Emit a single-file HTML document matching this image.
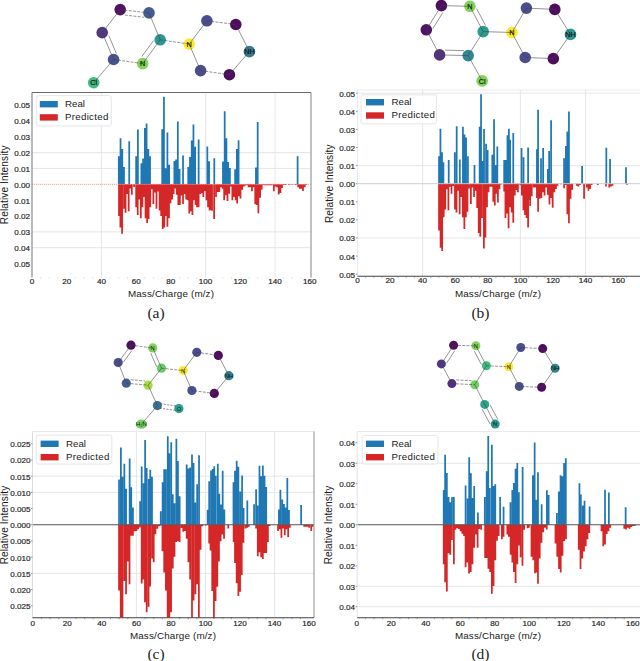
<!DOCTYPE html>
<html><head><meta charset="utf-8"><style>
html,body{margin:0;padding:0;background:#fff;width:640px;height:661px;overflow:hidden}
svg{display:block}
</style></head><body><svg width="640" height="661" viewBox="0 0 640 661">
<g stroke="#e3e3e3" stroke-width="0.9"><line x1="101.44" y1="92.5" x2="101.44" y2="277.5" /><line x1="205.60" y1="92.5" x2="205.60" y2="277.5" /><line x1="275.04" y1="92.5" x2="275.04" y2="277.5" /><line x1="32" y1="168.45" x2="311" y2="168.45" /><line x1="32" y1="152.60" x2="311" y2="152.60" /><line x1="32" y1="231.85" x2="311" y2="231.85" /><line x1="32" y1="247.70" x2="311" y2="247.70" /></g>
<path fill="#1f77b4" d="M117.92 156.20h1.75v28.10h-1.75zM119.66 138.20h1.75v46.10h-1.75zM121.40 149.10h1.75v35.20h-1.75zM123.13 167.10h1.75v17.20h-1.75zM128.34 141.30h1.75v43.00h-1.75zM135.28 156.20h1.75v28.10h-1.75zM137.02 129.60h1.75v54.70h-1.75zM140.49 163.20h1.75v21.10h-1.75zM142.23 158.50h1.75v25.80h-1.75zM143.97 128.05h1.75v56.25h-1.75zM145.70 123.40h1.75v60.90h-1.75zM147.44 149.10h1.75v35.20h-1.75zM149.17 156.20h1.75v28.10h-1.75zM161.32 129.30h1.75v55.00h-1.75zM163.06 96.80h1.75v87.50h-1.75zM164.80 168.20h1.75v16.10h-1.75zM166.53 132.40h1.75v51.90h-1.75zM168.27 164.80h1.75v19.50h-1.75zM173.48 160.90h1.75v23.40h-1.75zM175.21 159.60h1.75v24.70h-1.75zM176.95 121.50h1.75v62.80h-1.75zM178.69 169.00h1.75v15.30h-1.75zM182.16 155.40h1.75v28.90h-1.75zM187.37 167.10h1.75v17.20h-1.75zM189.10 157.00h1.75v27.30h-1.75zM190.84 140.55h1.75v43.75h-1.75zM192.57 124.50h1.75v59.80h-1.75zM194.31 146.80h1.75v37.50h-1.75zM197.78 139.50h1.75v44.80h-1.75zM206.46 146.50h1.75v37.80h-1.75zM208.20 161.30h1.75v23.00h-1.75zM213.41 158.30h1.75v26.00h-1.75zM222.09 161.60h1.75v22.70h-1.75zM223.82 111.20h1.75v73.10h-1.75zM225.56 138.30h1.75v46.00h-1.75zM227.29 161.90h1.75v22.40h-1.75zM229.03 168.10h1.75v16.20h-1.75zM234.24 169.20h1.75v15.10h-1.75zM235.97 148.90h1.75v35.40h-1.75zM237.71 140.30h1.75v44.00h-1.75zM255.07 167.60h1.75v16.70h-1.75zM256.81 122.10h1.75v62.20h-1.75zM296.73 156.20h1.75v28.10h-1.75z"/>
<path fill="#d62728" d="M118.10 184.30h1.75v31.60h-1.75zM119.49 184.30h1.75v43.30h-1.75zM121.22 184.30h1.75v49.50h-1.75zM123.13 184.30h1.75v24.50h-1.75zM124.70 184.30h1.75v28.40h-1.75zM126.26 184.30h1.75v9.70h-1.75zM127.82 184.30h1.75v26.90h-1.75zM129.38 184.30h1.75v4.20h-1.75zM130.94 184.30h1.75v10.50h-1.75zM133.20 184.30h1.75v2.70h-1.75zM135.28 184.30h1.75v23.00h-1.75zM136.85 184.30h1.75v30.80h-1.75zM138.41 184.30h1.75v15.20h-1.75zM139.97 184.30h1.75v33.90h-1.75zM141.53 184.30h1.75v23.00h-1.75zM143.10 184.30h1.75v12.80h-1.75zM144.66 184.30h1.75v33.90h-1.75zM146.22 184.30h1.75v38.60h-1.75zM147.78 184.30h1.75v34.70h-1.75zM149.35 184.30h1.75v23.00h-1.75zM150.91 184.30h1.75v5.00h-1.75zM152.47 184.30h1.75v19.80h-1.75zM154.03 184.30h1.75v8.10h-1.75zM155.60 184.30h1.75v24.50h-1.75zM157.16 184.30h1.75v7.30h-1.75zM158.72 184.30h1.75v26.10h-1.75zM160.28 184.30h1.75v31.60h-1.75zM161.85 184.30h1.75v44.80h-1.75zM163.41 184.30h1.75v43.30h-1.75zM164.97 184.30h1.75v31.60h-1.75zM166.53 184.30h1.75v42.50h-1.75zM168.10 184.30h1.75v33.90h-1.75zM169.66 184.30h1.75v19.00h-1.75zM171.22 184.30h1.75v15.20h-1.75zM172.78 184.30h1.75v9.70h-1.75zM174.34 184.30h1.75v4.20h-1.75zM175.91 184.30h1.75v10.50h-1.75zM177.47 184.30h1.75v20.60h-1.75zM179.03 184.30h1.75v20.60h-1.75zM180.59 184.30h1.75v11.25h-1.75zM182.16 184.30h1.75v19.80h-1.75zM183.72 184.30h1.75v9.70h-1.75zM185.28 184.30h1.75v15.20h-1.75zM186.84 184.30h1.75v15.90h-1.75zM188.41 184.30h1.75v29.20h-1.75zM189.97 184.30h1.75v26.90h-1.75zM191.53 184.30h1.75v30.80h-1.75zM193.09 184.30h1.75v15.90h-1.75zM194.66 184.30h1.75v20.60h-1.75zM196.22 184.30h1.75v23.00h-1.75zM197.78 184.30h1.75v23.00h-1.75zM199.34 184.30h1.75v9.70h-1.75zM200.91 184.30h1.75v8.90h-1.75zM202.47 184.30h1.75v12.80h-1.75zM204.03 184.30h1.75v6.60h-1.75zM205.59 184.30h1.75v15.90h-1.75zM207.16 184.30h1.75v23.00h-1.75zM208.72 184.30h1.75v26.10h-1.75zM209.59 184.30h1.75v25.70h-1.75zM211.15 184.30h1.75v26.50h-1.75zM213.23 184.30h1.75v34.60h-1.75zM215.14 184.30h1.75v12.70h-1.75zM216.88 184.30h1.75v7.80h-1.75zM218.44 184.30h1.75v7.80h-1.75zM220.18 184.30h1.75v2.90h-1.75zM221.74 184.30h1.75v4.50h-1.75zM223.30 184.30h1.75v15.90h-1.75zM225.04 184.30h1.75v11.00h-1.75zM226.60 184.30h1.75v16.70h-1.75zM228.33 184.30h1.75v9.40h-1.75zM229.90 184.30h1.75v2.10h-1.75zM231.46 184.30h1.75v15.90h-1.75zM233.20 184.30h1.75v12.70h-1.75zM234.76 184.30h1.75v15.90h-1.75zM236.32 184.30h1.75v19.20h-1.75zM238.06 184.30h1.75v11.90h-1.75zM239.62 184.30h1.75v14.30h-1.75zM241.35 184.30h1.75v5.40h-1.75zM242.92 184.30h1.75v2.10h-1.75zM244.48 184.30h1.75v1.30h-1.75zM246.22 184.30h1.75v1.00h-1.75zM247.78 184.30h1.75v2.90h-1.75zM249.34 184.30h1.75v2.90h-1.75zM251.08 184.30h1.75v7.00h-1.75zM252.64 184.30h1.75v2.90h-1.75zM254.37 184.30h1.75v20.00h-1.75zM255.94 184.30h1.75v20.80h-1.75zM257.50 184.30h1.75v28.90h-1.75zM259.24 184.30h1.75v13.50h-1.75zM260.80 184.30h1.75v5.40h-1.75zM262.53 184.30h1.75v0.80h-1.75zM264.10 184.30h1.75v1.00h-1.75zM265.83 184.30h1.75v1.00h-1.75zM267.39 184.30h1.75v1.00h-1.75zM268.96 184.30h1.75v1.00h-1.75zM270.69 184.30h1.75v1.00h-1.75zM272.95 184.30h1.75v7.00h-1.75zM274.69 184.30h1.75v2.10h-1.75zM276.25 184.30h1.75v2.90h-1.75zM277.81 184.30h1.75v10.20h-1.75zM279.55 184.30h1.75v8.60h-1.75zM281.11 184.30h1.75v3.70h-1.75zM282.67 184.30h1.75v0.80h-1.75zM284.58 184.30h1.75v0.80h-1.75zM288.05 184.30h1.75v0.80h-1.75zM291.52 184.30h1.75v0.80h-1.75zM295.00 184.30h1.75v0.80h-1.75zM297.25 184.30h1.75v2.90h-1.75zM298.99 184.30h1.75v4.50h-1.75zM300.55 184.30h1.75v4.50h-1.75zM302.11 184.30h1.75v6.70h-1.75zM303.85 184.30h1.75v2.90h-1.75zM305.41 184.30h1.75v0.80h-1.75z"/>
<line x1="32" y1="184.3" x2="311" y2="184.3" stroke="#e88080" stroke-width="0.8" stroke-dasharray="1.2 0.8"/>
<line x1="32" y1="92.5" x2="32" y2="277.5" stroke="#8f8f8f" stroke-width="1.25"/>
<line x1="311" y1="92.5" x2="311" y2="277.5" stroke="#a0a0a0" stroke-width="1.3"/>
<line x1="32" y1="92.5" x2="311" y2="92.5" stroke="#6a6a6a" stroke-width="1.0"/>
<g stroke="#d0d0d0" stroke-width="0.7"><line x1="40.68" y1="277.3" x2="40.68" y2="278.7"/><line x1="49.36" y1="277.3" x2="49.36" y2="278.7"/><line x1="58.04" y1="277.3" x2="58.04" y2="278.7"/><line x1="75.40" y1="277.3" x2="75.40" y2="278.7"/><line x1="84.08" y1="277.3" x2="84.08" y2="278.7"/><line x1="92.76" y1="277.3" x2="92.76" y2="278.7"/><line x1="110.12" y1="277.3" x2="110.12" y2="278.7"/><line x1="118.80" y1="277.3" x2="118.80" y2="278.7"/><line x1="127.48" y1="277.3" x2="127.48" y2="278.7"/><line x1="144.84" y1="277.3" x2="144.84" y2="278.7"/><line x1="153.52" y1="277.3" x2="153.52" y2="278.7"/><line x1="162.20" y1="277.3" x2="162.20" y2="278.7"/><line x1="179.56" y1="277.3" x2="179.56" y2="278.7"/><line x1="188.24" y1="277.3" x2="188.24" y2="278.7"/><line x1="196.92" y1="277.3" x2="196.92" y2="278.7"/><line x1="214.28" y1="277.3" x2="214.28" y2="278.7"/><line x1="222.96" y1="277.3" x2="222.96" y2="278.7"/><line x1="231.64" y1="277.3" x2="231.64" y2="278.7"/><line x1="249.00" y1="277.3" x2="249.00" y2="278.7"/><line x1="257.68" y1="277.3" x2="257.68" y2="278.7"/><line x1="266.36" y1="277.3" x2="266.36" y2="278.7"/><line x1="283.72" y1="277.3" x2="283.72" y2="278.7"/><line x1="292.40" y1="277.3" x2="292.40" y2="278.7"/><line x1="301.08" y1="277.3" x2="301.08" y2="278.7"/></g>
<g font-family="'Liberation Sans', sans-serif" font-size="8.1" fill="#1e1e1e" stroke="#1e1e1e" stroke-width="0.18"><text x="30" y="108.45" text-anchor="end">0.05</text><text x="30" y="124.30" text-anchor="end">0.04</text><text x="30" y="140.15" text-anchor="end">0.03</text><text x="30" y="156.00" text-anchor="end">0.02</text><text x="30" y="171.85" text-anchor="end">0.01</text><text x="30" y="187.70" text-anchor="end">0.00</text><text x="30" y="203.55" text-anchor="end">0.01</text><text x="30" y="219.40" text-anchor="end">0.02</text><text x="30" y="235.25" text-anchor="end">0.03</text><text x="30" y="251.10" text-anchor="end">0.04</text><text x="30" y="266.95" text-anchor="end">0.05</text><text x="32.00" y="284.40" text-anchor="middle">0</text><text x="66.72" y="284.40" text-anchor="middle">20</text><text x="101.44" y="284.40" text-anchor="middle">40</text><text x="136.16" y="284.40" text-anchor="middle">60</text><text x="170.88" y="284.40" text-anchor="middle">80</text><text x="205.60" y="284.40" text-anchor="middle">100</text><text x="240.32" y="284.40" text-anchor="middle">120</text><text x="275.04" y="284.40" text-anchor="middle">140</text><text x="309.76" y="284.40" text-anchor="middle">160</text></g>
<text x="171" y="296.90" text-anchor="middle" font-family="'Liberation Sans', sans-serif" font-size="9.85" letter-spacing="0.15" fill="#1a1a1a">Mass/Charge (m/z)</text>
<text transform="translate(4.5,184.8) rotate(-90)" x="0" y="3.64" text-anchor="middle" font-family="'Liberation Sans', sans-serif" font-size="10.1" letter-spacing="0.1" fill="#1a1a1a">Relative Intensity</text>
<rect x="36.3" y="95.6" width="75" height="30.3" rx="2" fill="#ffffff" fill-opacity="0.8" stroke="#e0e0e0" stroke-width="0.8"/>
<rect x="39.8" y="101" width="18" height="6.4" fill="#1f77b4"/>
<rect x="39.8" y="114.2" width="18" height="6.4" fill="#d62728"/>
<text x="65" y="107.00" font-family="'Liberation Sans', sans-serif" font-size="9.7" fill="#1a1a1a">Real</text>
<text x="65" y="120.20" font-family="'Liberation Sans', sans-serif" font-size="9.7" letter-spacing="0.3" fill="#1a1a1a">Predicted</text>
<text x="156" y="317.8" text-anchor="middle" font-family="'Liberation Serif', serif" font-size="15.5" fill="#222">(a)</text>
<ellipse cx="120.2" cy="9.6" rx="5.8" ry="5.8" fill="#46085c" fill-opacity="0.95"/>
<ellipse cx="149" cy="12.9" rx="5.8" ry="5.8" fill="#3b528b" fill-opacity="0.95"/>
<ellipse cx="102.2" cy="32.6" rx="5.8" ry="5.8" fill="#472d7b" fill-opacity="0.95"/>
<ellipse cx="160.2" cy="39.8" rx="5.8" ry="5.8" fill="#21918c" fill-opacity="0.95"/>
<ellipse cx="113.6" cy="59.5" rx="5.8" ry="5.8" fill="#3e4a89" fill-opacity="0.95"/>
<ellipse cx="142.7" cy="63.6" rx="5.8" ry="5.8" fill="#7ad151" fill-opacity="0.95"/>
<ellipse cx="93.7" cy="82.7" rx="5.8" ry="5.8" fill="#35b779" fill-opacity="0.95"/>
<ellipse cx="189.2" cy="44.1" rx="5.8" ry="5.8" fill="#fde725" fill-opacity="0.95"/>
<ellipse cx="206.9" cy="20.8" rx="5.8" ry="5.8" fill="#414487" fill-opacity="0.95"/>
<ellipse cx="235.8" cy="24.5" rx="5.8" ry="5.8" fill="#440154" fill-opacity="0.95"/>
<ellipse cx="249.4" cy="51.6" rx="5.8" ry="5.8" fill="#2c728e" fill-opacity="0.95"/>
<ellipse cx="229.4" cy="74.7" rx="5.8" ry="5.8" fill="#440154" fill-opacity="0.95"/>
<ellipse cx="200.6" cy="70.6" rx="5.8" ry="5.8" fill="#414487" fill-opacity="0.95"/>
<g stroke="#404040" stroke-width="0.7" stroke-opacity="0.8"><line x1="120.2" y1="9.6" x2="149" y2="12.9" stroke-dasharray="3 1.3"/><line x1="124.83" y1="15.06" x2="144.12" y2="17.27" stroke-dasharray="3 1.3"/><line x1="149" y1="12.9" x2="160.2" y2="39.8"/><line x1="120.2" y1="9.6" x2="102.2" y2="32.6"/><line x1="102.2" y1="32.6" x2="113.6" y2="59.5"/><line x1="108.76" y1="35.53" x2="116.40" y2="53.55"/><line x1="113.6" y1="59.5" x2="142.7" y2="63.6" stroke-dasharray="3 1.3"/><line x1="142.7" y1="63.6" x2="160.2" y2="39.8"/><line x1="141.90" y1="56.41" x2="153.63" y2="40.47"/><line x1="113.6" y1="59.5" x2="93.7" y2="82.7"/><line x1="160.2" y1="39.8" x2="189.2" y2="44.1" stroke-dasharray="3 1.3"/><line x1="189.2" y1="44.1" x2="206.9" y2="20.8"/><line x1="206.9" y1="20.8" x2="235.8" y2="24.5" stroke-dasharray="3 1.3"/><line x1="235.8" y1="24.5" x2="249.4" y2="51.6"/><line x1="249.4" y1="51.6" x2="229.4" y2="74.7"/><line x1="229.4" y1="74.7" x2="200.6" y2="70.6" stroke-dasharray="3 1.3"/><line x1="200.6" y1="70.6" x2="189.2" y2="44.1"/></g>
<text x="142.7" y="66.23" text-anchor="middle" font-family="'Liberation Sans', sans-serif" font-size="7.3" fill="#111" stroke="#111" stroke-width="0.15">N</text>
<text x="93.7" y="85.33" text-anchor="middle" font-family="'Liberation Sans', sans-serif" font-size="7.3" fill="#111" stroke="#111" stroke-width="0.15">Cl</text>
<text x="189.2" y="46.73" text-anchor="middle" font-family="'Liberation Sans', sans-serif" font-size="7.3" fill="#111" stroke="#111" stroke-width="0.15">N</text>
<text x="249.4" y="54.23" text-anchor="middle" font-family="'Liberation Sans', sans-serif" font-size="7.3" fill="#111" stroke="#111" stroke-width="0.15">NH</text>
<g stroke="#e3e3e3" stroke-width="0.9"><line x1="422.60" y1="90" x2="422.60" y2="276.3" /><line x1="520.40" y1="90" x2="520.40" y2="276.3" /><line x1="585.60" y1="90" x2="585.60" y2="276.3" /><line x1="357.5" y1="165.60" x2="640" y2="165.60" /><line x1="357.5" y1="238.00" x2="640" y2="238.00" /><line x1="357.5" y1="93.20" x2="640" y2="93.20" /></g>
<path fill="#1f77b4" d="M438.16 156.36h1.75v27.34h-1.75zM439.56 128.70h1.75v55.00h-1.75zM441.12 152.14h1.75v31.56h-1.75zM442.53 162.14h1.75v21.56h-1.75zM447.84 159.95h1.75v23.75h-1.75zM453.94 152.14h1.75v31.56h-1.75zM455.81 126.20h1.75v57.50h-1.75zM458.94 159.48h1.75v24.22h-1.75zM462.06 126.67h1.75v57.03h-1.75zM463.62 134.48h1.75v49.22h-1.75zM465.19 137.61h1.75v46.09h-1.75zM467.06 156.36h1.75v27.34h-1.75zM473.62 164.95h1.75v18.75h-1.75zM478.78 126.67h1.75v57.03h-1.75zM480.19 94.32h1.75v89.38h-1.75zM481.59 161.04h1.75v22.66h-1.75zM483.16 129.01h1.75v54.69h-1.75zM485.19 143.86h1.75v39.84h-1.75zM486.75 150.11h1.75v33.59h-1.75zM491.44 154.79h1.75v28.91h-1.75zM493.16 119.32h1.75v64.38h-1.75zM494.88 164.95h1.75v18.75h-1.75zM496.44 146.51h1.75v37.19h-1.75zM503.31 159.95h1.75v23.75h-1.75zM504.88 159.95h1.75v23.75h-1.75zM506.59 135.26h1.75v48.44h-1.75zM508.00 128.70h1.75v55.00h-1.75zM509.25 139.64h1.75v44.06h-1.75zM512.38 132.92h1.75v50.78h-1.75zM520.66 148.07h1.75v35.62h-1.75zM522.69 157.14h1.75v26.56h-1.75zM527.22 147.45h1.75v36.25h-1.75zM536.06 149.25h1.75v34.45h-1.75zM537.20 109.76h1.75v73.94h-1.75zM540.12 158.19h1.75v25.51h-1.75zM542.24 148.11h1.75v35.59h-1.75zM546.95 169.08h1.75v14.62h-1.75zM548.25 150.88h1.75v32.82h-1.75zM550.20 120.33h1.75v63.37h-1.75zM563.20 158.19h1.75v25.51h-1.75zM564.99 146.00h1.75v37.70h-1.75zM566.45 131.38h1.75v52.32h-1.75zM568.07 111.55h1.75v72.15h-1.75zM581.24 165.99h1.75v17.71h-1.75zM605.45 147.63h1.75v36.07h-1.75zM609.19 159.00h1.75v24.70h-1.75zM625.11 167.13h1.75v16.57h-1.75z"/>
<path fill="#d62728" d="M438.16 183.70h1.75v46.88h-1.75zM439.72 183.70h1.75v64.06h-1.75zM441.28 183.70h1.75v67.19h-1.75zM442.84 183.70h1.75v33.59h-1.75zM444.41 183.70h1.75v25.78h-1.75zM445.97 183.70h1.75v5.47h-1.75zM447.53 183.70h1.75v26.56h-1.75zM449.09 183.70h1.75v3.12h-1.75zM450.66 183.70h1.75v10.16h-1.75zM452.22 183.70h1.75v2.34h-1.75zM454.09 183.70h1.75v25.78h-1.75zM455.66 183.70h1.75v28.91h-1.75zM457.22 183.70h1.75v7.03h-1.75zM458.78 183.70h1.75v30.47h-1.75zM460.34 183.70h1.75v13.28h-1.75zM461.91 183.70h1.75v33.59h-1.75zM463.47 183.70h1.75v45.31h-1.75zM465.03 183.70h1.75v33.59h-1.75zM466.59 183.70h1.75v28.12h-1.75zM468.16 183.70h1.75v4.69h-1.75zM470.03 183.70h1.75v20.31h-1.75zM471.59 183.70h1.75v3.91h-1.75zM473.16 183.70h1.75v13.28h-1.75zM474.72 183.70h1.75v7.03h-1.75zM476.28 183.70h1.75v24.22h-1.75zM477.84 183.70h1.75v49.22h-1.75zM479.41 183.70h1.75v53.12h-1.75zM481.12 183.70h1.75v34.38h-1.75zM483.00 183.70h1.75v64.84h-1.75zM484.56 183.70h1.75v53.91h-1.75zM486.12 183.70h1.75v23.44h-1.75zM487.69 183.70h1.75v8.59h-1.75zM489.25 183.70h1.75v3.12h-1.75zM490.81 183.70h1.75v3.12h-1.75zM492.38 183.70h1.75v17.97h-1.75zM493.94 183.70h1.75v21.88h-1.75zM495.50 183.70h1.75v10.16h-1.75zM497.06 183.70h1.75v18.75h-1.75zM498.62 183.70h1.75v5.47h-1.75zM500.19 183.70h1.75v0.78h-1.75zM503.31 183.70h1.75v7.81h-1.75zM504.56 183.70h1.75v34.38h-1.75zM506.12 183.70h1.75v29.69h-1.75zM507.69 183.70h1.75v44.53h-1.75zM509.25 183.70h1.75v23.44h-1.75zM510.81 183.70h1.75v28.91h-1.75zM512.38 183.70h1.75v39.06h-1.75zM513.94 183.70h1.75v11.72h-1.75zM515.50 183.70h1.75v6.25h-1.75zM517.06 183.70h1.75v8.59h-1.75zM519.41 183.70h1.75v1.56h-1.75zM520.97 183.70h1.75v11.72h-1.75zM522.53 183.70h1.75v26.56h-1.75zM524.09 183.70h1.75v31.25h-1.75zM525.66 183.70h1.75v34.38h-1.75zM527.22 183.70h1.75v43.75h-1.75zM528.78 183.70h1.75v16.41h-1.75zM530.34 183.70h1.75v7.81h-1.75zM529.24 183.70h1.75v22.42h-1.75zM530.86 183.70h1.75v12.67h-1.75zM532.81 183.70h1.75v3.74h-1.75zM534.44 183.70h1.75v3.74h-1.75zM536.06 183.70h1.75v14.30h-1.75zM537.20 183.70h1.75v28.11h-1.75zM538.82 183.70h1.75v15.11h-1.75zM540.45 183.70h1.75v14.30h-1.75zM542.07 183.70h1.75v8.61h-1.75zM543.70 183.70h1.75v11.86h-1.75zM545.32 183.70h1.75v3.74h-1.75zM546.95 183.70h1.75v11.05h-1.75zM548.57 183.70h1.75v20.80h-1.75zM550.20 183.70h1.75v14.30h-1.75zM551.82 183.70h1.75v24.05h-1.75zM553.45 183.70h1.75v8.61h-1.75zM555.07 183.70h1.75v5.36h-1.75zM556.70 183.70h1.75v2.11h-1.75zM559.95 183.70h1.75v0.60h-1.75zM563.20 183.70h1.75v4.55h-1.75zM564.82 183.70h1.75v1.30h-1.75zM566.45 183.70h1.75v30.55h-1.75zM568.07 183.70h1.75v39.49h-1.75zM569.70 183.70h1.75v15.11h-1.75zM571.32 183.70h1.75v6.17h-1.75zM575.87 183.70h1.75v2.11h-1.75zM577.50 183.70h1.75v2.92h-1.75zM579.12 183.70h1.75v1.30h-1.75zM583.19 183.70h1.75v15.11h-1.75zM585.95 183.70h1.75v3.74h-1.75zM587.57 183.70h1.75v6.99h-1.75zM589.20 183.70h1.75v5.36h-1.75zM590.82 183.70h1.75v1.30h-1.75zM597.00 183.70h1.75v1.30h-1.75zM605.12 183.70h1.75v2.92h-1.75zM608.37 183.70h1.75v3.74h-1.75zM610.00 183.70h1.75v2.92h-1.75zM611.62 183.70h1.75v2.11h-1.75zM626.25 183.70h1.75v0.97h-1.75z"/>
<line x1="357.5" y1="183.7" x2="640" y2="183.7" stroke="#c8c8c8" stroke-width="0.9" />
<line x1="357.5" y1="90" x2="640" y2="90" stroke="#e8e8e8" stroke-width="0.9"/>
<line x1="357.5" y1="90" x2="357.5" y2="276.3" stroke="#e8e8e8" stroke-width="0.9"/>
<line x1="357.5" y1="276.3" x2="640" y2="276.3" stroke="#404040" stroke-width="1.1"/>
<g stroke="#707070" stroke-width="0.7"><line x1="365.55" y1="276.3" x2="365.55" y2="277.7"/><line x1="373.70" y1="276.3" x2="373.70" y2="277.7"/><line x1="381.85" y1="276.3" x2="381.85" y2="277.7"/><line x1="398.15" y1="276.3" x2="398.15" y2="277.7"/><line x1="406.30" y1="276.3" x2="406.30" y2="277.7"/><line x1="414.45" y1="276.3" x2="414.45" y2="277.7"/><line x1="430.75" y1="276.3" x2="430.75" y2="277.7"/><line x1="438.90" y1="276.3" x2="438.90" y2="277.7"/><line x1="447.05" y1="276.3" x2="447.05" y2="277.7"/><line x1="463.35" y1="276.3" x2="463.35" y2="277.7"/><line x1="471.50" y1="276.3" x2="471.50" y2="277.7"/><line x1="479.65" y1="276.3" x2="479.65" y2="277.7"/><line x1="495.95" y1="276.3" x2="495.95" y2="277.7"/><line x1="504.10" y1="276.3" x2="504.10" y2="277.7"/><line x1="512.25" y1="276.3" x2="512.25" y2="277.7"/><line x1="528.55" y1="276.3" x2="528.55" y2="277.7"/><line x1="536.70" y1="276.3" x2="536.70" y2="277.7"/><line x1="544.85" y1="276.3" x2="544.85" y2="277.7"/><line x1="561.15" y1="276.3" x2="561.15" y2="277.7"/><line x1="569.30" y1="276.3" x2="569.30" y2="277.7"/><line x1="577.45" y1="276.3" x2="577.45" y2="277.7"/><line x1="593.75" y1="276.3" x2="593.75" y2="277.7"/><line x1="601.90" y1="276.3" x2="601.90" y2="277.7"/><line x1="610.05" y1="276.3" x2="610.05" y2="277.7"/><line x1="626.35" y1="276.3" x2="626.35" y2="277.7"/></g>
<g stroke="#8a8a8a" stroke-width="0.9"><line x1="355.9" y1="93.20" x2="357.5" y2="93.20"/><line x1="355.9" y1="111.30" x2="357.5" y2="111.30"/><line x1="355.9" y1="129.40" x2="357.5" y2="129.40"/><line x1="355.9" y1="147.50" x2="357.5" y2="147.50"/><line x1="355.9" y1="165.60" x2="357.5" y2="165.60"/><line x1="355.9" y1="183.70" x2="357.5" y2="183.70"/><line x1="355.9" y1="201.80" x2="357.5" y2="201.80"/><line x1="355.9" y1="219.90" x2="357.5" y2="219.90"/><line x1="355.9" y1="238.00" x2="357.5" y2="238.00"/><line x1="355.9" y1="256.10" x2="357.5" y2="256.10"/><line x1="355.9" y1="274.20" x2="357.5" y2="274.20"/></g>
<g font-family="'Liberation Sans', sans-serif" font-size="8.1" fill="#1e1e1e" stroke="#1e1e1e" stroke-width="0.18"><text x="355" y="96.60" text-anchor="end">0.05</text><text x="355" y="114.70" text-anchor="end">0.04</text><text x="355" y="132.80" text-anchor="end">0.03</text><text x="355" y="150.90" text-anchor="end">0.02</text><text x="355" y="169.00" text-anchor="end">0.01</text><text x="355" y="187.10" text-anchor="end">0.00</text><text x="355" y="205.20" text-anchor="end">0.01</text><text x="355" y="223.30" text-anchor="end">0.02</text><text x="355" y="241.40" text-anchor="end">0.03</text><text x="355" y="259.50" text-anchor="end">0.04</text><text x="355" y="277.60" text-anchor="end">0.05</text><text x="357.40" y="283.30" text-anchor="middle">0</text><text x="390.00" y="283.30" text-anchor="middle">20</text><text x="422.60" y="283.30" text-anchor="middle">40</text><text x="455.20" y="283.30" text-anchor="middle">60</text><text x="487.80" y="283.30" text-anchor="middle">80</text><text x="520.40" y="283.30" text-anchor="middle">100</text><text x="553.00" y="283.30" text-anchor="middle">120</text><text x="585.60" y="283.30" text-anchor="middle">140</text><text x="618.20" y="283.30" text-anchor="middle">160</text></g>
<text x="498" y="296.90" text-anchor="middle" font-family="'Liberation Sans', sans-serif" font-size="9.85" letter-spacing="0.15" fill="#1a1a1a">Mass/Charge (m/z)</text>
<text transform="translate(329.5,183.7) rotate(-90)" x="0" y="3.64" text-anchor="middle" font-family="'Liberation Sans', sans-serif" font-size="10.1" letter-spacing="0.1" fill="#1a1a1a">Relative Intensity</text>
<rect x="361" y="94.8" width="75.5" height="29" rx="2" fill="#ffffff" fill-opacity="0.8" stroke="#e0e0e0" stroke-width="0.8"/>
<rect x="366" y="99" width="18" height="6.4" fill="#1f77b4"/>
<rect x="366" y="112.3" width="18" height="6.4" fill="#d62728"/>
<text x="391.5" y="105.00" font-family="'Liberation Sans', sans-serif" font-size="9.7" fill="#1a1a1a">Real</text>
<text x="391.5" y="118.30" font-family="'Liberation Sans', sans-serif" font-size="9.7" letter-spacing="0.3" fill="#1a1a1a">Predicted</text>
<text x="480.5" y="317.8" text-anchor="middle" font-family="'Liberation Serif', serif" font-size="15.5" fill="#222">(b)</text>
<ellipse cx="441.4" cy="5.6" rx="5.8" ry="5.8" fill="#440154" fill-opacity="0.95"/>
<ellipse cx="469.9" cy="6.3" rx="5.8" ry="5.8" fill="#7ad151" fill-opacity="0.95"/>
<ellipse cx="426.3" cy="29.8" rx="5.8" ry="5.8" fill="#46085c" fill-opacity="0.95"/>
<ellipse cx="483.2" cy="31.6" rx="5.8" ry="5.8" fill="#1f968b" fill-opacity="0.95"/>
<ellipse cx="439.6" cy="54.9" rx="5.8" ry="5.8" fill="#482878" fill-opacity="0.95"/>
<ellipse cx="468.2" cy="55.6" rx="5.8" ry="5.8" fill="#26828e" fill-opacity="0.95"/>
<ellipse cx="482.2" cy="80.9" rx="5.8" ry="5.8" fill="#7ad151" fill-opacity="0.95"/>
<ellipse cx="511.9" cy="32.5" rx="5.8" ry="5.8" fill="#fde725" fill-opacity="0.95"/>
<ellipse cx="526.4" cy="8.1" rx="5.8" ry="5.8" fill="#414487" fill-opacity="0.95"/>
<ellipse cx="554.8" cy="9.4" rx="5.8" ry="5.8" fill="#440154" fill-opacity="0.95"/>
<ellipse cx="570.5" cy="34.4" rx="5.8" ry="5.8" fill="#21908d" fill-opacity="0.95"/>
<ellipse cx="553.3" cy="58.6" rx="5.8" ry="5.8" fill="#440154" fill-opacity="0.95"/>
<ellipse cx="525.2" cy="57.5" rx="5.8" ry="5.8" fill="#414487" fill-opacity="0.95"/>
<g stroke="#404040" stroke-width="0.7" stroke-opacity="0.8"><line x1="441.4" y1="5.6" x2="469.9" y2="6.3"/><line x1="469.9" y1="6.3" x2="483.2" y2="31.6"/><line x1="476.63" y1="8.57" x2="485.54" y2="25.52"/><line x1="441.4" y1="5.6" x2="426.3" y2="29.8"/><line x1="442.84" y1="12.55" x2="432.72" y2="28.76"/><line x1="426.3" y1="29.8" x2="439.6" y2="54.9"/><line x1="439.6" y1="54.9" x2="468.2" y2="55.6"/><line x1="444.87" y1="50.13" x2="464.03" y2="50.60"/><line x1="468.2" y1="55.6" x2="483.2" y2="31.6"/><line x1="468.2" y1="55.6" x2="482.2" y2="80.9"/><line x1="483.2" y1="31.6" x2="511.9" y2="32.5"/><line x1="511.9" y1="32.5" x2="526.4" y2="8.1"/><line x1="526.4" y1="8.1" x2="554.8" y2="9.4"/><line x1="554.8" y1="9.4" x2="570.5" y2="34.4"/><line x1="570.5" y1="34.4" x2="553.3" y2="58.6"/><line x1="553.3" y1="58.6" x2="525.2" y2="57.5"/><line x1="525.2" y1="57.5" x2="511.9" y2="32.5"/></g>
<text x="469.9" y="8.93" text-anchor="middle" font-family="'Liberation Sans', sans-serif" font-size="7.3" fill="#111" stroke="#111" stroke-width="0.15">N</text>
<text x="482.2" y="83.53" text-anchor="middle" font-family="'Liberation Sans', sans-serif" font-size="7.3" fill="#111" stroke="#111" stroke-width="0.15">Cl</text>
<text x="511.9" y="35.13" text-anchor="middle" font-family="'Liberation Sans', sans-serif" font-size="7.3" fill="#111" stroke="#111" stroke-width="0.15">N</text>
<text x="570.5" y="37.03" text-anchor="middle" font-family="'Liberation Sans', sans-serif" font-size="7.3" fill="#111" stroke="#111" stroke-width="0.15">NH</text>
<g stroke="#e3e3e3" stroke-width="0.9"><line x1="136.42" y1="431.5" x2="136.42" y2="617.8" /><line x1="205.50" y1="431.5" x2="205.50" y2="617.8" /><line x1="274.58" y1="431.5" x2="274.58" y2="617.8" /><line x1="32.5" y1="492.40" x2="314" y2="492.40" /><line x1="32.5" y1="476.20" x2="314" y2="476.20" /><line x1="32.5" y1="573.40" x2="314" y2="573.40" /></g>
<path fill="#1f77b4" d="M118.16 479.49h1.75v45.31h-1.75zM120.03 447.46h1.75v77.34h-1.75zM121.59 476.67h1.75v48.12h-1.75zM123.47 463.86h1.75v60.94h-1.75zM125.19 488.86h1.75v35.94h-1.75zM128.78 458.39h1.75v66.41h-1.75zM130.34 487.30h1.75v37.50h-1.75zM132.06 507.46h1.75v17.34h-1.75zM139.25 501.36h1.75v23.44h-1.75zM140.81 466.52h1.75v58.28h-1.75zM142.69 483.24h1.75v41.56h-1.75zM144.25 439.96h1.75v84.84h-1.75zM145.81 468.08h1.75v56.72h-1.75zM147.84 479.02h1.75v45.78h-1.75zM149.41 469.64h1.75v55.16h-1.75zM151.12 476.67h1.75v48.12h-1.75zM159.88 511.36h1.75v13.44h-1.75zM161.75 482.14h1.75v42.66h-1.75zM163.31 469.17h1.75v55.62h-1.75zM165.03 469.17h1.75v55.62h-1.75zM166.91 436.36h1.75v88.44h-1.75zM168.47 453.24h1.75v71.56h-1.75zM170.34 442.30h1.75v82.50h-1.75zM171.91 494.17h1.75v30.62h-1.75zM173.62 503.24h1.75v21.56h-1.75zM175.50 438.71h1.75v86.09h-1.75zM177.06 461.05h1.75v63.75h-1.75zM178.78 496.21h1.75v28.59h-1.75zM185.81 464.49h1.75v60.31h-1.75zM187.53 468.55h1.75v56.25h-1.75zM189.25 467.61h1.75v57.19h-1.75zM191.12 454.49h1.75v70.31h-1.75zM192.69 463.08h1.75v61.72h-1.75zM194.41 502.46h1.75v22.34h-1.75zM196.28 484.17h1.75v40.62h-1.75zM198.16 455.27h1.75v69.53h-1.75zM206.75 509.80h1.75v15.00h-1.75zM208.31 481.36h1.75v43.44h-1.75zM210.19 470.42h1.75v54.38h-1.75zM210.16 470.80h1.75v54.00h-1.75zM211.85 469.11h1.75v55.69h-1.75zM213.37 466.24h1.75v58.56h-1.75zM214.89 475.86h1.75v48.94h-1.75zM216.91 463.71h1.75v61.09h-1.75zM218.43 493.75h1.75v31.05h-1.75zM220.12 504.55h1.75v20.25h-1.75zM221.81 470.80h1.75v54.00h-1.75zM223.49 509.61h1.75v15.19h-1.75zM232.61 482.28h1.75v42.52h-1.75zM234.12 470.80h1.75v54.00h-1.75zM235.81 460.68h1.75v64.12h-1.75zM237.50 466.75h1.75v58.05h-1.75zM239.36 491.56h1.75v33.24h-1.75zM241.21 475.53h1.75v49.27h-1.75zM242.73 507.93h1.75v16.87h-1.75zM246.44 500.50h1.75v24.30h-1.75zM253.19 504.21h1.75v20.59h-1.75zM255.22 489.36h1.75v35.44h-1.75zM256.74 505.56h1.75v19.24h-1.75zM258.59 465.74h1.75v59.06h-1.75zM260.28 476.37h1.75v48.43h-1.75zM261.97 465.40h1.75v59.40h-1.75zM263.66 475.86h1.75v48.94h-1.75zM265.34 487.00h1.75v37.80h-1.75zM278.00 509.61h1.75v15.19h-1.75zM279.52 489.87h1.75v34.93h-1.75zM281.37 499.49h1.75v25.31h-1.75zM283.06 503.88h1.75v20.92h-1.75zM284.75 507.59h1.75v17.21h-1.75zM286.44 478.06h1.75v46.74h-1.75zM288.12 510.12h1.75v14.68h-1.75zM300.27 505.06h1.75v19.74h-1.75z"/>
<path fill="#d62728" d="M118.16 524.80h1.75v65.62h-1.75zM119.88 524.80h1.75v92.81h-1.75zM121.59 524.80h1.75v92.81h-1.75zM123.47 524.80h1.75v56.25h-1.75zM125.19 524.80h1.75v69.53h-1.75zM126.91 524.80h1.75v36.72h-1.75zM128.62 524.80h1.75v59.38h-1.75zM130.34 524.80h1.75v10.94h-1.75zM132.06 524.80h1.75v10.94h-1.75zM133.78 524.80h1.75v6.56h-1.75zM135.50 524.80h1.75v6.25h-1.75zM137.22 524.80h1.75v4.38h-1.75zM138.94 524.80h1.75v2.81h-1.75zM140.81 524.80h1.75v58.59h-1.75zM142.38 524.80h1.75v54.69h-1.75zM144.09 524.80h1.75v77.34h-1.75zM145.81 524.80h1.75v87.50h-1.75zM147.69 524.80h1.75v82.03h-1.75zM149.25 524.80h1.75v61.72h-1.75zM151.12 524.80h1.75v33.59h-1.75zM152.84 524.80h1.75v37.50h-1.75zM154.56 524.80h1.75v9.38h-1.75zM156.44 524.80h1.75v3.91h-1.75zM158.16 524.80h1.75v1.56h-1.75zM159.88 524.80h1.75v0.78h-1.75zM161.59 524.80h1.75v26.56h-1.75zM163.31 524.80h1.75v47.66h-1.75zM165.03 524.80h1.75v65.62h-1.75zM166.75 524.80h1.75v92.81h-1.75zM168.47 524.80h1.75v92.81h-1.75zM170.19 524.80h1.75v87.50h-1.75zM171.91 524.80h1.75v43.75h-1.75zM173.62 524.80h1.75v32.03h-1.75zM175.34 524.80h1.75v17.19h-1.75zM177.06 524.80h1.75v16.41h-1.75zM178.78 524.80h1.75v17.19h-1.75zM180.66 524.80h1.75v3.12h-1.75zM182.38 524.80h1.75v7.03h-1.75zM184.09 524.80h1.75v6.25h-1.75zM185.81 524.80h1.75v14.06h-1.75zM187.53 524.80h1.75v37.50h-1.75zM189.25 524.80h1.75v54.69h-1.75zM191.12 524.80h1.75v92.81h-1.75zM192.69 524.80h1.75v75.78h-1.75zM194.56 524.80h1.75v69.53h-1.75zM196.28 524.80h1.75v59.38h-1.75zM198.00 524.80h1.75v92.81h-1.75zM199.72 524.80h1.75v25.00h-1.75zM201.44 524.80h1.75v1.56h-1.75zM204.88 524.80h1.75v0.78h-1.75zM208.31 524.80h1.75v18.75h-1.75zM210.19 524.80h1.75v25.78h-1.75zM209.66 524.80h1.75v25.65h-1.75zM211.34 524.80h1.75v66.15h-1.75zM213.03 524.80h1.75v92.98h-1.75zM214.72 524.80h1.75v76.27h-1.75zM216.41 524.80h1.75v61.93h-1.75zM218.09 524.80h1.75v36.62h-1.75zM219.78 524.80h1.75v16.37h-1.75zM221.47 524.80h1.75v9.62h-1.75zM223.16 524.80h1.75v13.84h-1.75zM227.37 524.80h1.75v3.71h-1.75zM232.77 524.80h1.75v17.21h-1.75zM234.12 524.80h1.75v38.31h-1.75zM235.81 524.80h1.75v58.56h-1.75zM237.50 524.80h1.75v71.21h-1.75zM239.19 524.80h1.75v66.99h-1.75zM240.87 524.80h1.75v50.12h-1.75zM242.56 524.80h1.75v18.06h-1.75zM244.59 524.80h1.75v3.71h-1.75zM246.27 524.80h1.75v2.87h-1.75zM247.96 524.80h1.75v2.02h-1.75zM255.22 524.80h1.75v3.71h-1.75zM256.91 524.80h1.75v31.56h-1.75zM258.59 524.80h1.75v27.34h-1.75zM260.28 524.80h1.75v32.40h-1.75zM261.97 524.80h1.75v34.09h-1.75zM263.66 524.80h1.75v28.18h-1.75zM265.34 524.80h1.75v28.18h-1.75zM267.03 524.80h1.75v17.21h-1.75zM268.72 524.80h1.75v1.18h-1.75zM277.16 524.80h1.75v6.24h-1.75zM278.84 524.80h1.75v4.56h-1.75zM280.53 524.80h1.75v12.99h-1.75zM282.22 524.80h1.75v3.71h-1.75zM283.91 524.80h1.75v10.46h-1.75zM285.59 524.80h1.75v4.56h-1.75zM287.28 524.80h1.75v12.15h-1.75zM288.97 524.80h1.75v2.87h-1.75zM303.31 524.80h1.75v2.02h-1.75zM305.00 524.80h1.75v2.02h-1.75zM306.69 524.80h1.75v2.02h-1.75zM308.37 524.80h1.75v2.87h-1.75zM310.40 524.80h1.75v6.24h-1.75zM311.75 524.80h1.75v2.02h-1.75z"/>
<line x1="32.5" y1="524.8" x2="314" y2="524.8" stroke="#555555" stroke-width="1.1" />
<line x1="32.5" y1="431.5" x2="314" y2="431.5" stroke="#e8e8e8" stroke-width="0.9"/>
<line x1="32.5" y1="431.5" x2="32.5" y2="617.8" stroke="#d8d8d8" stroke-width="0.9"/>
<line x1="314" y1="431.5" x2="314" y2="617.8" stroke="#909090" stroke-width="1.0"/>
<line x1="32.5" y1="617.8" x2="314" y2="617.8" stroke="#404040" stroke-width="1.1"/>
<g stroke="#707070" stroke-width="0.7"><line x1="41.43" y1="617.8" x2="41.43" y2="619.1999999999999"/><line x1="50.07" y1="617.8" x2="50.07" y2="619.1999999999999"/><line x1="58.70" y1="617.8" x2="58.70" y2="619.1999999999999"/><line x1="75.97" y1="617.8" x2="75.97" y2="619.1999999999999"/><line x1="84.61" y1="617.8" x2="84.61" y2="619.1999999999999"/><line x1="93.25" y1="617.8" x2="93.25" y2="619.1999999999999"/><line x1="110.52" y1="617.8" x2="110.52" y2="619.1999999999999"/><line x1="119.15" y1="617.8" x2="119.15" y2="619.1999999999999"/><line x1="127.78" y1="617.8" x2="127.78" y2="619.1999999999999"/><line x1="145.06" y1="617.8" x2="145.06" y2="619.1999999999999"/><line x1="153.69" y1="617.8" x2="153.69" y2="619.1999999999999"/><line x1="162.32" y1="617.8" x2="162.32" y2="619.1999999999999"/><line x1="179.60" y1="617.8" x2="179.60" y2="619.1999999999999"/><line x1="188.23" y1="617.8" x2="188.23" y2="619.1999999999999"/><line x1="196.87" y1="617.8" x2="196.87" y2="619.1999999999999"/><line x1="214.13" y1="617.8" x2="214.13" y2="619.1999999999999"/><line x1="222.77" y1="617.8" x2="222.77" y2="619.1999999999999"/><line x1="231.41" y1="617.8" x2="231.41" y2="619.1999999999999"/><line x1="248.68" y1="617.8" x2="248.68" y2="619.1999999999999"/><line x1="257.31" y1="617.8" x2="257.31" y2="619.1999999999999"/><line x1="265.94" y1="617.8" x2="265.94" y2="619.1999999999999"/><line x1="283.22" y1="617.8" x2="283.22" y2="619.1999999999999"/><line x1="291.85" y1="617.8" x2="291.85" y2="619.1999999999999"/><line x1="300.49" y1="617.8" x2="300.49" y2="619.1999999999999"/></g>
<g stroke="#8a8a8a" stroke-width="0.9"><line x1="30.9" y1="443.80" x2="32.5" y2="443.80"/><line x1="30.9" y1="460.00" x2="32.5" y2="460.00"/><line x1="30.9" y1="476.20" x2="32.5" y2="476.20"/><line x1="30.9" y1="492.40" x2="32.5" y2="492.40"/><line x1="30.9" y1="508.60" x2="32.5" y2="508.60"/><line x1="30.9" y1="524.80" x2="32.5" y2="524.80"/><line x1="30.9" y1="541.00" x2="32.5" y2="541.00"/><line x1="30.9" y1="557.20" x2="32.5" y2="557.20"/><line x1="30.9" y1="573.40" x2="32.5" y2="573.40"/><line x1="30.9" y1="589.60" x2="32.5" y2="589.60"/><line x1="30.9" y1="605.80" x2="32.5" y2="605.80"/></g>
<g font-family="'Liberation Sans', sans-serif" font-size="8.1" fill="#1e1e1e" stroke="#1e1e1e" stroke-width="0.18"><text x="30.5" y="447.20" text-anchor="end">0.025</text><text x="30.5" y="463.40" text-anchor="end">0.020</text><text x="30.5" y="479.60" text-anchor="end">0.015</text><text x="30.5" y="495.80" text-anchor="end">0.010</text><text x="30.5" y="512.00" text-anchor="end">0.005</text><text x="30.5" y="528.20" text-anchor="end">0.000</text><text x="30.5" y="544.40" text-anchor="end">0.005</text><text x="30.5" y="560.60" text-anchor="end">0.010</text><text x="30.5" y="576.80" text-anchor="end">0.015</text><text x="30.5" y="593.00" text-anchor="end">0.020</text><text x="30.5" y="609.20" text-anchor="end">0.025</text><text x="32.80" y="625.70" text-anchor="middle">0</text><text x="67.34" y="625.70" text-anchor="middle">20</text><text x="101.88" y="625.70" text-anchor="middle">40</text><text x="136.42" y="625.70" text-anchor="middle">60</text><text x="170.96" y="625.70" text-anchor="middle">80</text><text x="205.50" y="625.70" text-anchor="middle">100</text><text x="240.04" y="625.70" text-anchor="middle">120</text><text x="274.58" y="625.70" text-anchor="middle">140</text><text x="309.12" y="625.70" text-anchor="middle">160</text></g>
<text x="173" y="638.50" text-anchor="middle" font-family="'Liberation Sans', sans-serif" font-size="9.85" letter-spacing="0.15" fill="#1a1a1a">Mass/Charge (m/z)</text>
<text transform="translate(4.5,525) rotate(-90)" x="0" y="3.64" text-anchor="middle" font-family="'Liberation Sans', sans-serif" font-size="10.1" letter-spacing="0.1" fill="#1a1a1a">Relative Intensity</text>
<rect x="36.3" y="435.2" width="75.5" height="28.8" rx="2" fill="#ffffff" fill-opacity="0.8" stroke="#e0e0e0" stroke-width="0.8"/>
<rect x="40.6" y="440.6" width="18" height="6.4" fill="#1f77b4"/>
<rect x="40.6" y="454" width="18" height="6.4" fill="#d62728"/>
<text x="66" y="446.60" font-family="'Liberation Sans', sans-serif" font-size="9.7" fill="#1a1a1a">Real</text>
<text x="66" y="460.00" font-family="'Liberation Sans', sans-serif" font-size="9.7" letter-spacing="0.3" fill="#1a1a1a">Predicted</text>
<text x="156" y="658.6" text-anchor="middle" font-family="'Liberation Serif', serif" font-size="15.5" fill="#222">(c)</text>
<ellipse cx="131" cy="345.2" rx="4.6" ry="4.6" fill="#440154" fill-opacity="0.95"/>
<ellipse cx="152.7" cy="347.9" rx="4.6" ry="4.6" fill="#7ad151" fill-opacity="0.95"/>
<ellipse cx="118.2" cy="362.5" rx="4.6" ry="4.6" fill="#414487" fill-opacity="0.95"/>
<ellipse cx="161.5" cy="368.2" rx="4.6" ry="4.6" fill="#5ec962" fill-opacity="0.95"/>
<ellipse cx="126.3" cy="383.2" rx="4.6" ry="4.6" fill="#3b528b" fill-opacity="0.95"/>
<ellipse cx="148.1" cy="385.2" rx="4.6" ry="4.6" fill="#a0da39" fill-opacity="0.95"/>
<ellipse cx="183.2" cy="370.6" rx="4.6" ry="4.6" fill="#fde725" fill-opacity="0.95"/>
<ellipse cx="196.8" cy="352.3" rx="4.6" ry="4.6" fill="#414487" fill-opacity="0.95"/>
<ellipse cx="218.3" cy="355.4" rx="4.6" ry="4.6" fill="#440154" fill-opacity="0.95"/>
<ellipse cx="228.9" cy="375.7" rx="4.6" ry="4.6" fill="#2a788e" fill-opacity="0.95"/>
<ellipse cx="214.3" cy="393.4" rx="4.6" ry="4.6" fill="#440154" fill-opacity="0.95"/>
<ellipse cx="191.9" cy="390.5" rx="4.6" ry="4.6" fill="#3e4a89" fill-opacity="0.95"/>
<ellipse cx="157.4" cy="405.6" rx="4.6" ry="4.6" fill="#31688e" fill-opacity="0.95"/>
<ellipse cx="178.9" cy="408.6" rx="4.6" ry="4.6" fill="#1f9a8a" fill-opacity="0.95"/>
<ellipse cx="141.4" cy="424.2" rx="5.6" ry="4.6" fill="#6ccd5a" fill-opacity="0.95"/>
<g stroke="#404040" stroke-width="0.7" stroke-opacity="0.8"><line x1="131" y1="345.2" x2="152.7" y2="347.9" stroke-dasharray="3 1.3"/><line x1="152.7" y1="347.9" x2="161.5" y2="368.2"/><line x1="150.71" y1="353.11" x2="156.60" y2="366.71"/><line x1="131" y1="345.2" x2="118.2" y2="362.5"/><line x1="131.83" y1="350.63" x2="123.26" y2="362.22"/><line x1="118.2" y1="362.5" x2="126.3" y2="383.2"/><line x1="126.3" y1="383.2" x2="148.1" y2="385.2" stroke-dasharray="3 1.3"/><line x1="130.58" y1="379.68" x2="145.19" y2="381.02" stroke-dasharray="3 1.3"/><line x1="148.1" y1="385.2" x2="161.5" y2="368.2"/><line x1="161.5" y1="368.2" x2="183.2" y2="370.6" stroke-dasharray="3 1.3"/><line x1="183.2" y1="370.6" x2="196.8" y2="352.3"/><line x1="196.8" y1="352.3" x2="218.3" y2="355.4" stroke-dasharray="3 1.3"/><line x1="218.3" y1="355.4" x2="228.9" y2="375.7"/><line x1="228.9" y1="375.7" x2="214.3" y2="393.4"/><line x1="214.3" y1="393.4" x2="191.9" y2="390.5" stroke-dasharray="3 1.3"/><line x1="191.9" y1="390.5" x2="183.2" y2="370.6"/><line x1="148.1" y1="385.2" x2="157.4" y2="405.6"/><line x1="159.68" y1="408.14" x2="176.02" y2="410.42" stroke-dasharray="2.2 1.2"/><line x1="160.28" y1="403.78" x2="176.62" y2="406.06" stroke-dasharray="2.2 1.2"/><line x1="157.4" y1="405.6" x2="141.4" y2="424.2"/></g>
<text x="152.7" y="349.99" text-anchor="middle" font-family="'Liberation Sans', sans-serif" font-size="5.8" fill="#111" stroke="#111" stroke-width="0">N</text>
<text x="183.2" y="372.69" text-anchor="middle" font-family="'Liberation Sans', sans-serif" font-size="5.8" fill="#111" stroke="#111" stroke-width="0">N</text>
<text x="228.9" y="377.79" text-anchor="middle" font-family="'Liberation Sans', sans-serif" font-size="5.8" fill="#111" stroke="#111" stroke-width="0">NH</text>
<text x="178.9" y="410.69" text-anchor="middle" font-family="'Liberation Sans', sans-serif" font-size="5.8" fill="#111" stroke="#111" stroke-width="0">O</text>
<text x="141.4" y="426.29" text-anchor="middle" font-family="'Liberation Sans', sans-serif" font-size="5.8" fill="#111" stroke="#111" stroke-width="0">H₂N</text>
<g stroke="#e3e3e3" stroke-width="0.9"><line x1="357.2" y1="463.30" x2="640" y2="463.30" /><line x1="357.2" y1="586.30" x2="640" y2="586.30" /><line x1="357.2" y1="606.80" x2="640" y2="606.80" /></g>
<path fill="#1f77b4" d="M442.84 490.11h1.75v34.69h-1.75zM444.25 454.80h1.75v70.00h-1.75zM445.97 472.92h1.75v51.88h-1.75zM447.69 496.99h1.75v27.81h-1.75zM449.41 502.14h1.75v22.66h-1.75zM451.12 496.99h1.75v27.81h-1.75zM453.00 496.99h1.75v27.81h-1.75zM464.72 485.42h1.75v39.38h-1.75zM466.75 498.55h1.75v26.25h-1.75zM468.31 457.30h1.75v67.50h-1.75zM470.03 473.24h1.75v51.56h-1.75zM471.75 497.92h1.75v26.88h-1.75zM473.31 486.05h1.75v38.75h-1.75zM477.06 512.61h1.75v12.19h-1.75zM483.94 496.99h1.75v27.81h-1.75zM485.81 471.36h1.75v53.44h-1.75zM487.38 436.05h1.75v88.75h-1.75zM488.94 488.08h1.75v36.72h-1.75zM490.97 444.80h1.75v80.00h-1.75zM492.69 486.05h1.75v38.75h-1.75zM494.41 484.17h1.75v40.62h-1.75zM499.25 496.99h1.75v27.81h-1.75zM502.69 506.83h1.75v17.97h-1.75zM509.56 502.14h1.75v22.66h-1.75zM511.44 490.11h1.75v34.69h-1.75zM513.00 482.92h1.75v41.88h-1.75zM514.72 468.86h1.75v55.94h-1.75zM516.44 463.08h1.75v61.72h-1.75zM518.00 492.30h1.75v32.50h-1.75zM521.75 466.99h1.75v57.81h-1.75zM532.03 475.27h1.75v49.53h-1.75zM533.78 442.55h1.75v82.25h-1.75zM535.53 499.77h1.75v25.03h-1.75zM537.10 472.30h1.75v52.50h-1.75zM540.78 504.32h1.75v20.48h-1.75zM546.03 490.32h1.75v34.48h-1.75zM547.78 495.05h1.75v29.75h-1.75zM556.00 513.07h1.75v11.73h-1.75zM557.93 491.55h1.75v33.25h-1.75zM559.68 475.27h1.75v49.53h-1.75zM561.43 476.32h1.75v48.48h-1.75zM563.18 463.02h1.75v61.78h-1.75zM564.93 458.30h1.75v66.50h-1.75zM578.58 483.32h1.75v41.48h-1.75zM579.98 494.52h1.75v30.28h-1.75zM581.90 505.55h1.75v19.25h-1.75zM583.65 500.82h1.75v23.98h-1.75zM588.73 506.42h1.75v18.38h-1.75zM604.13 489.80h1.75v35.00h-1.75zM607.98 492.42h1.75v32.38h-1.75zM624.78 507.30h1.75v17.50h-1.75z"/>
<path fill="#d62728" d="M442.84 524.80h1.75v39.38h-1.75zM444.25 524.80h1.75v57.34h-1.75zM445.97 524.80h1.75v66.72h-1.75zM447.69 524.80h1.75v28.44h-1.75zM449.41 524.80h1.75v30.00h-1.75zM451.12 524.80h1.75v15.16h-1.75zM453.00 524.80h1.75v39.38h-1.75zM454.56 524.80h1.75v5.00h-1.75zM456.28 524.80h1.75v3.44h-1.75zM458.00 524.80h1.75v4.22h-1.75zM459.72 524.80h1.75v6.56h-1.75zM461.44 524.80h1.75v8.91h-1.75zM463.16 524.80h1.75v11.25h-1.75zM464.72 524.80h1.75v42.50h-1.75zM466.44 524.80h1.75v37.81h-1.75zM468.16 524.80h1.75v48.75h-1.75zM469.88 524.80h1.75v47.19h-1.75zM471.59 524.80h1.75v39.38h-1.75zM473.31 524.80h1.75v22.97h-1.75zM475.03 524.80h1.75v9.69h-1.75zM476.75 524.80h1.75v22.97h-1.75zM478.47 524.80h1.75v4.22h-1.75zM480.34 524.80h1.75v5.00h-1.75zM484.25 524.80h1.75v33.12h-1.75zM485.81 524.80h1.75v33.12h-1.75zM487.53 524.80h1.75v44.06h-1.75zM489.25 524.80h1.75v47.19h-1.75zM490.97 524.80h1.75v69.06h-1.75zM492.69 524.80h1.75v61.25h-1.75zM494.41 524.80h1.75v35.47h-1.75zM496.12 524.80h1.75v15.94h-1.75zM497.84 524.80h1.75v11.25h-1.75zM500.97 524.80h1.75v14.38h-1.75zM502.69 524.80h1.75v12.03h-1.75zM506.44 524.80h1.75v9.69h-1.75zM508.00 524.80h1.75v12.03h-1.75zM509.72 524.80h1.75v30.00h-1.75zM511.44 524.80h1.75v37.81h-1.75zM513.00 524.80h1.75v47.19h-1.75zM514.72 524.80h1.75v58.12h-1.75zM516.44 524.80h1.75v39.38h-1.75zM518.00 524.80h1.75v20.62h-1.75zM519.72 524.80h1.75v32.34h-1.75zM521.59 524.80h1.75v40.94h-1.75zM523.31 524.80h1.75v5.00h-1.75zM526.75 524.80h1.75v3.44h-1.75zM528.00 524.80h1.75v2.98h-1.75zM530.63 524.80h1.75v31.85h-1.75zM532.38 524.80h1.75v35.35h-1.75zM534.13 524.80h1.75v48.48h-1.75zM535.88 524.80h1.75v47.60h-1.75zM537.10 524.80h1.75v58.98h-1.75zM538.85 524.80h1.75v33.60h-1.75zM540.60 524.80h1.75v17.85h-1.75zM542.35 524.80h1.75v7.35h-1.75zM544.10 524.80h1.75v2.98h-1.75zM545.85 524.80h1.75v4.73h-1.75zM554.60 524.80h1.75v18.73h-1.75zM556.35 524.80h1.75v31.85h-1.75zM558.10 524.80h1.75v44.10h-1.75zM559.85 524.80h1.75v47.60h-1.75zM561.60 524.80h1.75v30.98h-1.75zM563.35 524.80h1.75v16.10h-1.75zM565.10 524.80h1.75v14.35h-1.75zM577.88 524.80h1.75v24.85h-1.75zM579.63 524.80h1.75v44.10h-1.75zM581.38 524.80h1.75v33.60h-1.75zM583.13 524.80h1.75v26.60h-1.75zM584.88 524.80h1.75v21.35h-1.75zM586.63 524.80h1.75v14.35h-1.75zM588.38 524.80h1.75v8.23h-1.75zM600.63 524.80h1.75v6.48h-1.75zM602.38 524.80h1.75v21.35h-1.75zM604.13 524.80h1.75v19.60h-1.75zM605.88 524.80h1.75v9.10h-1.75zM607.63 524.80h1.75v6.48h-1.75zM609.38 524.80h1.75v2.98h-1.75zM623.38 524.80h1.75v3.85h-1.75zM625.13 524.80h1.75v4.73h-1.75zM626.88 524.80h1.75v2.98h-1.75zM628.63 524.80h1.75v3.85h-1.75zM630.38 524.80h1.75v2.10h-1.75zM632.13 524.80h1.75v1.23h-1.75zM633.88 524.80h1.75v1.23h-1.75z"/>
<line x1="357.2" y1="524.8" x2="640" y2="524.8" stroke="#555555" stroke-width="1.1" />
<line x1="357.2" y1="431.5" x2="640" y2="431.5" stroke="#e8e8e8" stroke-width="0.9"/>
<line x1="357.2" y1="431.5" x2="357.2" y2="617.8" stroke="#e0e0e0" stroke-width="0.9"/>
<line x1="357.2" y1="617.8" x2="640" y2="617.8" stroke="#404040" stroke-width="1.1"/>
<g stroke="#707070" stroke-width="0.7"><line x1="365.43" y1="617.8" x2="365.43" y2="619.1999999999999"/><line x1="374.05" y1="617.8" x2="374.05" y2="619.1999999999999"/><line x1="382.68" y1="617.8" x2="382.68" y2="619.1999999999999"/><line x1="399.93" y1="617.8" x2="399.93" y2="619.1999999999999"/><line x1="408.55" y1="617.8" x2="408.55" y2="619.1999999999999"/><line x1="417.18" y1="617.8" x2="417.18" y2="619.1999999999999"/><line x1="434.43" y1="617.8" x2="434.43" y2="619.1999999999999"/><line x1="443.05" y1="617.8" x2="443.05" y2="619.1999999999999"/><line x1="451.68" y1="617.8" x2="451.68" y2="619.1999999999999"/><line x1="468.93" y1="617.8" x2="468.93" y2="619.1999999999999"/><line x1="477.55" y1="617.8" x2="477.55" y2="619.1999999999999"/><line x1="486.18" y1="617.8" x2="486.18" y2="619.1999999999999"/><line x1="503.43" y1="617.8" x2="503.43" y2="619.1999999999999"/><line x1="512.05" y1="617.8" x2="512.05" y2="619.1999999999999"/><line x1="520.67" y1="617.8" x2="520.67" y2="619.1999999999999"/><line x1="537.92" y1="617.8" x2="537.92" y2="619.1999999999999"/><line x1="546.55" y1="617.8" x2="546.55" y2="619.1999999999999"/><line x1="555.17" y1="617.8" x2="555.17" y2="619.1999999999999"/><line x1="572.42" y1="617.8" x2="572.42" y2="619.1999999999999"/><line x1="581.05" y1="617.8" x2="581.05" y2="619.1999999999999"/><line x1="589.67" y1="617.8" x2="589.67" y2="619.1999999999999"/><line x1="606.92" y1="617.8" x2="606.92" y2="619.1999999999999"/><line x1="615.55" y1="617.8" x2="615.55" y2="619.1999999999999"/><line x1="624.17" y1="617.8" x2="624.17" y2="619.1999999999999"/></g>
<g stroke="#8a8a8a" stroke-width="0.9"><line x1="355.59999999999997" y1="442.80" x2="357.2" y2="442.80"/><line x1="355.59999999999997" y1="463.30" x2="357.2" y2="463.30"/><line x1="355.59999999999997" y1="483.80" x2="357.2" y2="483.80"/><line x1="355.59999999999997" y1="504.30" x2="357.2" y2="504.30"/><line x1="355.59999999999997" y1="524.80" x2="357.2" y2="524.80"/><line x1="355.59999999999997" y1="545.30" x2="357.2" y2="545.30"/><line x1="355.59999999999997" y1="565.80" x2="357.2" y2="565.80"/><line x1="355.59999999999997" y1="586.30" x2="357.2" y2="586.30"/><line x1="355.59999999999997" y1="606.80" x2="357.2" y2="606.80"/></g>
<g font-family="'Liberation Sans', sans-serif" font-size="8.1" fill="#1e1e1e" stroke="#1e1e1e" stroke-width="0.18"><text x="355" y="446.20" text-anchor="end">0.04</text><text x="355" y="466.70" text-anchor="end">0.03</text><text x="355" y="487.20" text-anchor="end">0.02</text><text x="355" y="507.70" text-anchor="end">0.01</text><text x="355" y="528.20" text-anchor="end">0.00</text><text x="355" y="548.70" text-anchor="end">0.01</text><text x="355" y="569.20" text-anchor="end">0.02</text><text x="355" y="589.70" text-anchor="end">0.03</text><text x="355" y="610.20" text-anchor="end">0.04</text><text x="356.80" y="625.70" text-anchor="middle">0</text><text x="391.30" y="625.70" text-anchor="middle">20</text><text x="425.80" y="625.70" text-anchor="middle">40</text><text x="460.30" y="625.70" text-anchor="middle">60</text><text x="494.80" y="625.70" text-anchor="middle">80</text><text x="529.30" y="625.70" text-anchor="middle">100</text><text x="563.80" y="625.70" text-anchor="middle">120</text><text x="598.30" y="625.70" text-anchor="middle">140</text><text x="632.80" y="625.70" text-anchor="middle">160</text></g>
<text x="498" y="638.50" text-anchor="middle" font-family="'Liberation Sans', sans-serif" font-size="9.85" letter-spacing="0.15" fill="#1a1a1a">Mass/Charge (m/z)</text>
<text transform="translate(328.5,525) rotate(-90)" x="0" y="3.64" text-anchor="middle" font-family="'Liberation Sans', sans-serif" font-size="10.1" letter-spacing="0.1" fill="#1a1a1a">Relative Intensity</text>
<rect x="362.3" y="435.5" width="75.6" height="28.5" rx="2" fill="#ffffff" fill-opacity="0.8" stroke="#e0e0e0" stroke-width="0.8"/>
<rect x="366" y="440.6" width="18" height="6.4" fill="#1f77b4"/>
<rect x="366" y="454" width="18" height="6.4" fill="#d62728"/>
<text x="391.5" y="446.60" font-family="'Liberation Sans', sans-serif" font-size="9.7" fill="#1a1a1a">Real</text>
<text x="391.5" y="460.00" font-family="'Liberation Sans', sans-serif" font-size="9.7" letter-spacing="0.3" fill="#1a1a1a">Predicted</text>
<text x="480.5" y="658.6" text-anchor="middle" font-family="'Liberation Serif', serif" font-size="15.5" fill="#222">(d)</text>
<ellipse cx="453.6" cy="345.3" rx="4.5" ry="4.5" fill="#440154" fill-opacity="0.95"/>
<ellipse cx="475.9" cy="345.8" rx="4.5" ry="4.5" fill="#7ad151" fill-opacity="0.95"/>
<ellipse cx="441.4" cy="363.9" rx="4.5" ry="4.5" fill="#472d7b" fill-opacity="0.95"/>
<ellipse cx="486.4" cy="365.7" rx="4.5" ry="4.5" fill="#35b779" fill-opacity="0.95"/>
<ellipse cx="451.9" cy="383.6" rx="4.5" ry="4.5" fill="#482576" fill-opacity="0.95"/>
<ellipse cx="474.8" cy="384.7" rx="4.5" ry="4.5" fill="#6ccd5a" fill-opacity="0.95"/>
<ellipse cx="508.8" cy="366.8" rx="4.5" ry="4.5" fill="#fde725" fill-opacity="0.95"/>
<ellipse cx="520.8" cy="347.5" rx="4.5" ry="4.5" fill="#414487" fill-opacity="0.95"/>
<ellipse cx="542.7" cy="348.6" rx="4.5" ry="4.5" fill="#440154" fill-opacity="0.95"/>
<ellipse cx="555.1" cy="368.3" rx="4.5" ry="4.5" fill="#25838e" fill-opacity="0.95"/>
<ellipse cx="541.6" cy="387.3" rx="4.5" ry="4.5" fill="#440154" fill-opacity="0.95"/>
<ellipse cx="519.3" cy="386.4" rx="4.5" ry="4.5" fill="#414487" fill-opacity="0.95"/>
<ellipse cx="484.7" cy="404.4" rx="4.5" ry="4.5" fill="#1f9e89" fill-opacity="0.95"/>
<ellipse cx="495.2" cy="424.1" rx="4.5" ry="4.5" fill="#21918c" fill-opacity="0.95"/>
<g stroke="#404040" stroke-width="0.7" stroke-opacity="0.8"><line x1="453.6" y1="345.3" x2="475.9" y2="345.8" stroke-dasharray="3 1.3"/><line x1="475.9" y1="345.8" x2="486.4" y2="365.7"/><line x1="474.34" y1="351.20" x2="481.38" y2="364.53"/><line x1="453.6" y1="345.3" x2="441.4" y2="363.9"/><line x1="454.67" y1="350.79" x2="446.49" y2="363.25"/><line x1="441.4" y1="363.9" x2="451.9" y2="383.6"/><line x1="451.9" y1="383.6" x2="474.8" y2="384.7" stroke-dasharray="3 1.3"/><line x1="456.21" y1="379.90" x2="471.55" y2="380.64" stroke-dasharray="3 1.3"/><line x1="474.8" y1="384.7" x2="486.4" y2="365.7"/><line x1="486.4" y1="365.7" x2="508.8" y2="366.8" stroke-dasharray="3 1.3"/><line x1="508.8" y1="366.8" x2="520.8" y2="347.5"/><line x1="520.8" y1="347.5" x2="542.7" y2="348.6" stroke-dasharray="3 1.3"/><line x1="542.7" y1="348.6" x2="555.1" y2="368.3"/><line x1="555.1" y1="368.3" x2="541.6" y2="387.3"/><line x1="541.6" y1="387.3" x2="519.3" y2="386.4" stroke-dasharray="3 1.3"/><line x1="519.3" y1="386.4" x2="508.8" y2="366.8"/><line x1="474.8" y1="384.7" x2="484.7" y2="404.4"/><line x1="484.7" y1="404.4" x2="495.2" y2="424.1"/><line x1="482.20" y1="409.27" x2="489.97" y2="423.85"/><line x1="490.14" y1="405.04" x2="497.91" y2="419.62"/></g>
<text x="475.9" y="347.89" text-anchor="middle" font-family="'Liberation Sans', sans-serif" font-size="5.8" fill="#111" stroke="#111" stroke-width="0">N</text>
<text x="508.8" y="368.89" text-anchor="middle" font-family="'Liberation Sans', sans-serif" font-size="5.8" fill="#111" stroke="#111" stroke-width="0">N</text>
<text x="555.1" y="370.39" text-anchor="middle" font-family="'Liberation Sans', sans-serif" font-size="5.8" fill="#111" stroke="#111" stroke-width="0">NH</text>
<text x="495.2" y="426.19" text-anchor="middle" font-family="'Liberation Sans', sans-serif" font-size="5.8" fill="#111" stroke="#111" stroke-width="0">N</text>
</svg></body></html>
